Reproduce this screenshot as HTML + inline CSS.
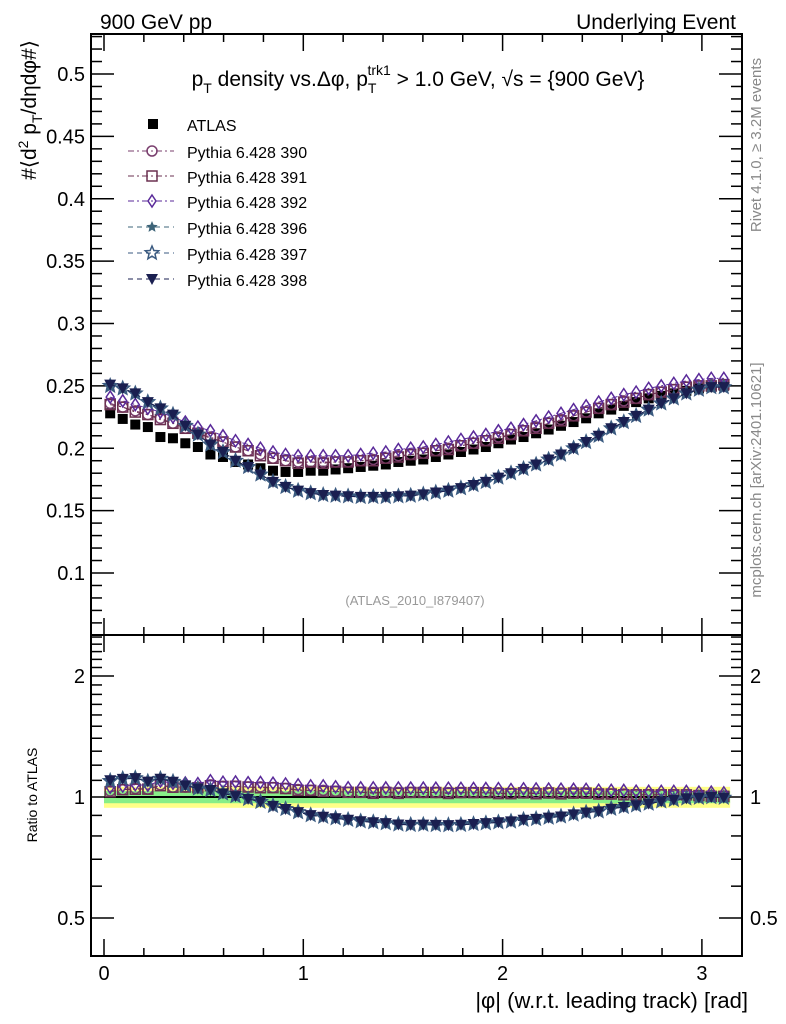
<!DOCTYPE html>
<html><head><meta charset="utf-8"><style>
body{margin:0;background:#fff;}
svg{display:block;font-family:"Liberation Sans",sans-serif;}
</style></head><body>
<svg id="c" width="786" height="1024" viewBox="0 0 786 1024" xmlns="http://www.w3.org/2000/svg">
<text x="100" y="29" font-size="21">900 GeV pp</text>
<text x="736" y="29" font-size="21" text-anchor="end">Underlying Event</text>
<text x="418" y="86" font-size="21" text-anchor="middle">p<tspan font-size="14" dy="7">T</tspan><tspan dy="-7"> density vs.Δφ, p</tspan><tspan font-size="14" dy="7">T</tspan><tspan font-size="14" dx="-9" dy="-18">trk1</tspan><tspan dy="11"> &gt; 1.0 GeV, √s = {900 GeV}</tspan></text>
<text transform="translate(36,110) rotate(-90)" font-size="21" text-anchor="middle">#⟨d<tspan font-size="14" dy="-8">2</tspan><tspan dy="8"> p</tspan><tspan font-size="14" dy="6">T</tspan><tspan dy="-6">/dηdφ#⟩</tspan></text>
<text transform="translate(37,795) rotate(-90)" font-size="14" text-anchor="middle">Ratio to ATLAS</text>
<text transform="translate(761,145) rotate(-90)" font-size="15" fill="#888" text-anchor="middle">Rivet 4.1.0, ≥ 3.2M events</text>
<text transform="translate(761,480) rotate(-90)" font-size="15" fill="#888" text-anchor="middle">mcplots.cern.ch [arXiv:2401.10621]</text>
<text x="415" y="605" font-size="13" fill="#999" text-anchor="middle">(ATLAS_2010_I879407)</text>
<text x="748" y="1008" font-size="22" text-anchor="end">|φ| (w.r.t. leading track) [rad]</text>
<g id="g"></g>
</svg>
<script>
const xBins=[0.031,0.094,0.157,0.220,0.283,0.346,0.408,0.471,0.534,0.597,0.660,0.723,0.785,0.848,0.911,0.974,1.037,1.100,1.162,1.225,1.288,1.351,1.414,1.477,1.539,1.602,1.665,1.728,1.791,1.854,1.916,1.979,2.042,2.105,2.168,2.231,2.293,2.356,2.419,2.482,2.545,2.608,2.670,2.733,2.796,2.859,2.922,2.985,3.047,3.110];
const atlas=[.228,.2235,.219,.217,.209,.208,.204,.201,.195,.193,.189,.187,.184,.182,.181,.181,.182,.182,.183,.184,.185,.186,.187,.189,.190,.191,.193,.195,.197,.199,.201,.204,.207,.209,.212,.215,.218,.221,.224,.228,.231,.234,.237,.240,.242,.244,.246,.248,.249,.250];
const p390=[.236,.233,.230,.227,.224,.220,.216,.212,.209,.205,.201,.198,.195,.192,.190,.189,.189,.189,.189,.189,.190,.191,.192,.194,.195,.196,.198,.200,.202,.204,.206,.209,.211,.214,.217,.220,.223,.226,.229,.232,.235,.238,.240,.243,.245,.247,.249,.250,.251,.251];
const p391=[.235,.233,.229,.227,.223,.220,.216,.212,.208,.205,.201,.198,.194,.192,.190,.188,.189,.188,.189,.189,.190,.190,.192,.193,.195,.196,.198,.199,.202,.204,.206,.208,.211,.214,.216,.220,.222,.226,.229,.232,.235,.237,.240,.243,.245,.247,.249,.250,.250,.251];
const p392=[.241,.238,.235,.232,.229,.225,.221,.217,.214,.210,.206,.203,.200,.197,.195,.194,.194,.194,.194,.194,.195,.196,.197,.199,.200,.201,.203,.205,.207,.209,.211,.214,.216,.219,.222,.225,.228,.231,.234,.237,.240,.243,.245,.248,.250,.252,.254,.255,.256,.256];
const p396=[.250,.247,.244,.237,.232,.227,.218,.211,.203,.197,.190,.185,.179,.173,.169,.166,.164,.1625,.162,.1615,.161,.161,.161,.1615,.162,.163,.1645,.166,.168,.1705,.173,.1765,.180,.1835,.187,.191,.195,.200,.205,.210,.216,.221,.226,.231,.236,.240,.244,.247,.249,.249];
const p397=[.250,.248,.244,.237,.232,.227,.218,.211,.203,.197,.190,.185,.179,.173,.169,.166,.164,.1625,.162,.1615,.161,.161,.161,.1615,.162,.163,.1645,.166,.168,.1705,.173,.1765,.180,.1835,.187,.191,.195,.200,.205,.210,.216,.221,.226,.231,.236,.240,.244,.247,.249,.249];
const p398=[.251,.248,.244,.237,.232,.227,.218,.211,.203,.197,.190,.185,.179,.173,.169,.166,.164,.1625,.162,.1615,.161,.161,.161,.1615,.162,.163,.1645,.166,.168,.1705,.173,.1765,.180,.1835,.187,.191,.195,.200,.205,.210,.216,.221,.226,.231,.236,.240,.244,.247,.249,.249];
const yTicks=[0.1,0.15,0.2,0.25,0.3,0.35,0.4,0.45,0.5];
const xTicks=[0,1,2,3];
const rTicks=[0.5,1,2];
const bandOuter=0.06, bandInner=0.035;

const NS="http://www.w3.org/2000/svg";
const g=document.getElementById('g');
const L=91,R=742,T=34,M=635,B=956;
const X=v=>104+v*199.3;
const Y=v=>74+(0.5-v)*1247.5;
const YR=r=>797-121*Math.log2(r);
function mk(tag,at,parent){const e=document.createElementNS(NS,tag);for(const k in at)e.setAttribute(k,at[k]);(parent||g).appendChild(e);return e;}

let bo=mk('rect',{x:X(0),y:YR(1+bandOuter),width:X(Math.PI)-X(0),height:YR(1-bandOuter)-YR(1+bandOuter),fill:'#ffff88'});


let bi=mk('rect',{x:X(0),y:YR(1+bandInner),width:X(Math.PI)-X(0),height:YR(1-bandInner)-YR(1+bandInner),fill:'#88ee88'});


let one=mk('line',{x1:X(0),x2:X(Math.PI),y1:YR(1),y2:YR(1),stroke:'#000','stroke-width':2});



let f1=mk('rect',{x:L,y:T,width:R-L,height:M-T,fill:'none',stroke:'#000','stroke-width':2});


let f2=mk('rect',{x:L,y:M,width:R-L,height:B-M,fill:'none',stroke:'#000','stroke-width':2});



function tick(x1,y1,x2,y2){mk('line',{x1,y1,x2,y2,stroke:'#000','stroke-width':1.5});}
for(let i=6;i<=53;i++){const v=i/100,y=Y(v);if(y<T||y>M)continue;const maj=(i%5===0);const len=maj?23:11;tick(L,y,L+len,y);tick(R,y,R-len,y);}
yTicks.forEach(v=>{const t=mk('text',{x:L-6,y:Y(v)+7,'font-size':20,'text-anchor':'end'});t.textContent=String(v);});
for(let i=0;i<=31;i++){const v=i/10;const x=X(v);if(x>R)continue;const maj=(i%10===0);const mn=(i%2===0);if(!maj&&!mn)continue;const len=maj?17:8;
 tick(x,T,x,T+len);tick(x,M,x,M-len);tick(x,M,x,M+len);tick(x,B,x,B-len);}
xTicks.forEach(v=>{const t=mk('text',{x:X(v),y:980,'font-size':20,'text-anchor':'middle'});t.textContent=String(v);});
const rMinor=[0.4,0.5,0.6,0.7,0.8,0.9,1,1.1,1.2,1.3,1.4,1.5,1.6,1.7,1.8,1.9,2,2.1,2.2,2.3,2.4,2.5];
rMinor.forEach(r=>{const y=YR(r);if(y<M||y>B)return;const maj=rTicks.includes(r);const len=maj?23:11;tick(L,y,L+len,y);tick(R,y,R-len,y);});
rTicks.forEach(r=>{const t=mk('text',{x:L-6,y:YR(r)+7,'font-size':20,'text-anchor':'end'});t.textContent=String(r);
 const t2=mk('text',{x:R+8,y:YR(r)+7,'font-size':20});t2.textContent=String(r);});

function star(cx,cy,r){let p=[];for(let k=0;k<10;k++){const a=-Math.PI/2+k*Math.PI/5;const rr=k%2?r*0.45:r;p.push((cx+rr*Math.cos(a)).toFixed(1)+','+(cy+rr*Math.sin(a)).toFixed(1));}return p.join(' ');}
function marker(type,cx,cy,col,parent){
 const s=5;
 if(type==='sq')return mk('rect',{x:cx-s,y:cy-s,width:2*s,height:2*s,fill:'#000'},parent);
 if(type==='circ')return mk('circle',{cx,cy,r:s,fill:'none',stroke:col,'stroke-width':1.5},parent);
 if(type==='osq')return mk('rect',{x:cx-s,y:cy-s,width:2*s,height:2*s,fill:'none',stroke:col,'stroke-width':1.5},parent);
 if(type==='dia')return mk('polygon',{points:`${cx},${cy-6} ${cx+4},${cy} ${cx},${cy+6} ${cx-4},${cy}`,fill:'none',stroke:col,'stroke-width':1.5},parent);
 if(type==='fstar')return mk('polygon',{points:star(cx,cy,6),fill:col},parent);
 if(type==='ostar')return mk('polygon',{points:star(cx,cy,7),fill:'none',stroke:col,'stroke-width':1.5},parent);
 if(type==='tri')return mk('polygon',{points:`${cx-6},${cy-5} ${cx+6},${cy-5} ${cx},${cy+6}`,fill:col},parent);
}
const series=[
 {name:'Pythia 6.428 390',data:p390,type:'circ',col:'#7a3f6e',dash:'6,3,2,3'},
 {name:'Pythia 6.428 391',data:p391,type:'osq',col:'#6b3050',dash:'6,3,2,3'},
 {name:'Pythia 6.428 392',data:p392,type:'dia',col:'#5a2a9a',dash:'6,3,2,3'},
 {name:'Pythia 6.428 396',data:p396,type:'fstar',col:'#3d6478',dash:'5,4'},
 {name:'Pythia 6.428 397',data:p397,type:'ostar',col:'#3a5a80',dash:'5,4'},
 {name:'Pythia 6.428 398',data:p398,type:'tri',col:'#1a1f50',dash:'5,4'}
];
const ag=mk('g',{});


atlas.forEach((v,i)=>{const m=marker('sq',X(xBins[i]),Y(v),'#000',ag);});
series.forEach((s,si)=>{
 const sg=mk('g',{});
 
 
 const pts=s.data.map((v,i)=>X(xBins[i]).toFixed(1)+','+Y(v).toFixed(1)).join(' ');
 mk('polyline',{points:pts,fill:'none',stroke:s.col,'stroke-width':1,'stroke-dasharray':s.dash},sg);
 const rpts=s.data.map((v,i)=>X(xBins[i]).toFixed(1)+','+YR(v/atlas[i]).toFixed(1)).join(' ');
 mk('polyline',{points:rpts,fill:'none',stroke:s.col,'stroke-width':1,'stroke-dasharray':s.dash},sg);
 s.data.forEach((v,i)=>{
  const m=marker(s.type,X(xBins[i]),Y(v),s.col,sg);
  
  
  const r=marker(s.type,X(xBins[i]),YR(v/atlas[i]),s.col,sg);
  
  
 });
});
const lg=mk('g',{});


const rows=[125,152,177,202,228,254,280];
const e0=mk('g',{},lg);


marker('sq',153,rows[0]-1,'#000',e0);
const t0=mk('text',{x:187,y:rows[0]+6,'font-size':16},e0);t0.textContent='ATLAS';
series.forEach((s,i)=>{
 const e=mk('g',{},lg);
 
 
 const y=rows[i+1]-1;
 mk('line',{x1:128,x2:174,y1:y,y2:y,stroke:s.col,'stroke-width':1,'stroke-dasharray':s.dash},e);
 marker(s.type,152,y,s.col,e);
 const t=mk('text',{x:187,y:y+7,'font-size':16},e);t.textContent=s.name;
});
</script>
</body></html>
